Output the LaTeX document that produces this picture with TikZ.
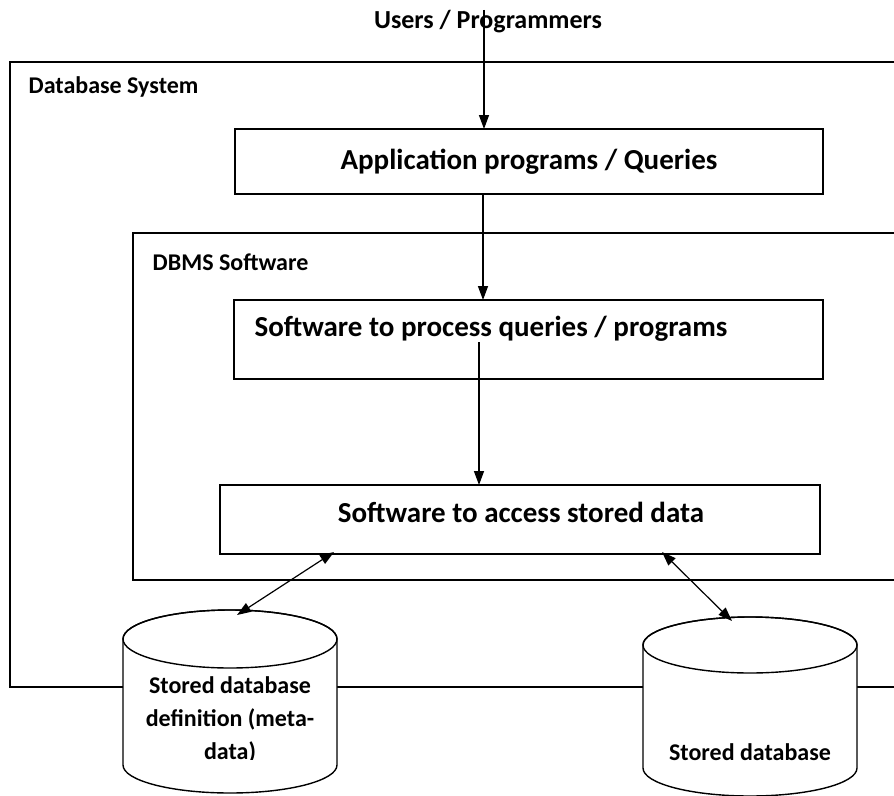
\documentclass[tikz,border=0pt]{standalone}
\usepackage{fontspec}
\setmainfont{Carlito}
\usepackage{tikz}
\usetikzlibrary{arrows.meta}

\begin{document}
\begin{tikzpicture}[x=1pt,y=-1pt,line width=1.4pt,
  box/.style={draw,fill=white,inner sep=0pt},
  big/.style={font=\fontsize{29}{34}\selectfont\bfseries,inner sep=0pt},
  small/.style={font=\fontsize{24}{33}\selectfont\bfseries,inner sep=0pt},
  arr/.style={-{Triangle[length=14pt,width=10pt]}},
  darr/.style={{Triangle[length=14pt,width=10pt]}-{Triangle[length=14pt,width=10pt]}}]
\useasboundingbox(0,0)rectangle(894,795);
\clip(0,0)rectangle(894,795);
\draw(10,62)rectangle(920,687);
\draw(133,233)rectangle(920,580);
\node[font=\fontsize{26}{30}\selectfont\bfseries,inner sep=0pt](users)at(488,22){Users / Programmers};
\node[small,anchor=west](dbsys)at(28,87){Database System};
\node[small,anchor=west](dbms)at(152,262){DBMS Software};
\node[box,big,minimum width=588pt,minimum height=65pt](app)at(529,161.5){Application programs / Queries};
\node[box,minimum width=589pt,minimum height=79pt](proc)at(528.5,339.5){};
\node[big](proctxt)at(491,329){Software to process queries / programs};
\node[box,minimum width=600pt,minimum height=69pt](acc)at(520,519.5){};
\node[big](acctxt)at(521,512){Software to access stored data};
% cylinders
\filldraw[fill=white](123,639)--(123,765)arc[start angle=180,end angle=360,x radius=107pt,y radius=28pt]--(337,639)arc[start angle=0,end angle=180,x radius=107pt,y radius=29pt]--cycle;
\draw(230,639)ellipse[x radius=107pt,y radius=29pt];
\filldraw[fill=white](643,645)--(643,768)arc[start angle=180,end angle=360,x radius=107pt,y radius=28pt]--(857,645)arc[start angle=0,end angle=180,x radius=107pt,y radius=28pt]--cycle;
\draw(750,645)ellipse[x radius=107pt,y radius=28pt];
\begin{scope}
\clip(124,670)rectangle(336,759);
\node[small,align=center](meta)at(230,720){Stored database\\definition (meta-\\data)};
\end{scope}
\node[small](store)at(750,752){Stored database};
% connectors
\coordinate(a1)at(484,129);
\coordinate(a2)at(483,300);
\coordinate(a3)at(479,485);
\coordinate(m1)at(334,552);
\coordinate(m2)at(237,615);
\coordinate(s1)at(662,552);
\coordinate(s2)at(732,621);
\draw[arr](a1|-users.north)--(a1);
\draw[arr](a2|-app.south)--(a2);
\draw[arr](a3|-proctxt.south)--(a3);
\draw[darr,line width=1.2pt](m1)--(m2);
\draw[darr,line width=1.2pt](s1)--(s2);
\end{tikzpicture}
\end{document}
